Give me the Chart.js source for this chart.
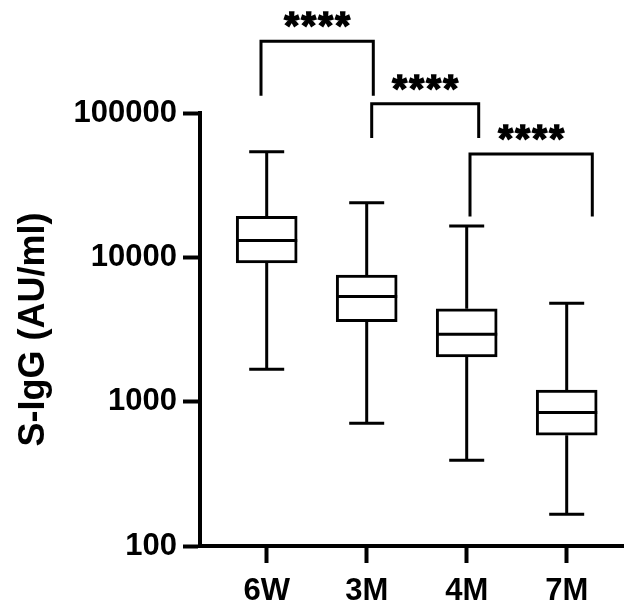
<!DOCTYPE html>
<html>
<head>
<meta charset="utf-8">
<script src="https://cdn.jsdelivr.net/npm/chart.js@4"></script>
<style>
  html, body { margin: 0; padding: 0; background: #fff; }
</style>
</head>
<body>
<canvas id="graficoIgG" width="624" height="600"></canvas>
<script>
// dados (AU/ml)
const grupos = ['6W', '3M', '4M', '7M']
const posicoes = [1, 2, 3, 4]
const minimo = [1680, 708, 392, 166]
const quartil1 = [9160, 3590, 2040, 585]
const mediana = [13100, 5350, 2930, 840]
const quartil3 = [19200, 7530, 4400, 1205]
const maximo = [53900, 23900, 16500, 4810]
const ticksY = [100, 1000, 10000, 100000]

// colchetes de significancia
const colcheteInicio = [0.943, 2.05, 3.033]
const colcheteFim = [2.066, 3.12, 4.256]
const colcheteTopo = [313800, 116000, 52000]
const colchetePerna = [131800, 67100, 19190]
const colcheteTexto = ['****', '****', '****']

const fonte = '"Liberation Sans", Arial, sans-serif'
const larguraCaixa = 61
const larguraTampa = 35

const bigodesPlugin = {
  id: 'bigodes',
  afterDatasetsDraw(chart) {
    const ctx = chart.ctx
    const x = chart.scales.x
    const y = chart.scales.y
    ctx.save()
    ctx.strokeStyle = '#000'
    ctx.lineWidth = 3
    ctx.lineCap = 'butt'

    for (let i = 0; i < grupos.length; i++) {
      const px = x.getPixelForValue(posicoes[i])
      ctx.beginPath()
      // bigode de cima
      ctx.moveTo(px, y.getPixelForValue(quartil3[i]))
      ctx.lineTo(px, y.getPixelForValue(maximo[i]))
      ctx.moveTo(px - larguraTampa / 2, y.getPixelForValue(maximo[i]))
      ctx.lineTo(px + larguraTampa / 2, y.getPixelForValue(maximo[i]))
      // bigode de baixo
      ctx.moveTo(px, y.getPixelForValue(quartil1[i]))
      ctx.lineTo(px, y.getPixelForValue(minimo[i]))
      ctx.moveTo(px - larguraTampa / 2, y.getPixelForValue(minimo[i]))
      ctx.lineTo(px + larguraTampa / 2, y.getPixelForValue(minimo[i]))
      // mediana
      ctx.moveTo(px - larguraCaixa / 2, y.getPixelForValue(mediana[i]))
      ctx.lineTo(px + larguraCaixa / 2, y.getPixelForValue(mediana[i]))
      ctx.stroke()
    }

    // colchetes + asteriscos
    for (let j = 0; j < colcheteInicio.length; j++) {
      const x1 = x.getPixelForValue(colcheteInicio[j])
      const x2 = x.getPixelForValue(colcheteFim[j])
      const yt = y.getPixelForValue(colcheteTopo[j])
      const yp = y.getPixelForValue(colchetePerna[j])
      ctx.lineWidth = 3
      ctx.beginPath()
      ctx.moveTo(x1, yp)
      ctx.lineTo(x1, yt)
      ctx.lineTo(x2, yt)
      ctx.lineTo(x2, yp)
      ctx.stroke()

      ctx.font = 'bold 38px ' + fonte
      ctx.fillStyle = '#000'
      ctx.textAlign = 'center'
      ctx.textBaseline = 'alphabetic'
      ctx.lineWidth = 1.5
      const meio = (x1 + x2) / 2
      const texto = colcheteTexto[j]
      for (let k = 0; k < texto.length; k++) {
        const tx = meio + (k - (texto.length - 1) / 2) * 17
        ctx.fillText(texto[k], tx, yt - 2)
        ctx.strokeText(texto[k], tx, yt - 2)
      }
    }
    ctx.restore()
  }
}

const ctxGrafico = document.getElementById('graficoIgG')

var graficoIgG = new Chart(ctxGrafico, {
  type: 'bar',
  data: {
    datasets: [{
      label: 'S-IgG',
      data: posicoes.map((p, i) => ({ x: p, y: [quartil1[i], quartil3[i]] })),
      backgroundColor: '#ffffff',
      borderColor: '#000000',
      borderWidth: 3,
      borderSkipped: false,
      barThickness: larguraCaixa
    }]
  },
  options: {
    responsive: false,
    animation: false,
    devicePixelRatio: 1,
    layout: { padding: { top: 113, right: 0, left: 0, bottom: 0 } },
    plugins: {
      legend: { display: false },
      tooltip: { enabled: false }
    },
    scales: {
      x: {
        type: 'linear',
        position: 'bottom',
        offset: false,
        min: 0.333,
        max: 4.573,
        afterBuildTicks: (s) => { s.ticks = posicoes.map(v => ({ value: v })) },
        afterFit: (s) => { s.height = 54 },
        ticks: {
          callback: (v) => grupos[posicoes.indexOf(v)],
          color: '#000',
          font: { family: fonte, size: 31, weight: 'bold' },
          padding: 10,
          maxRotation: 0,
          autoSkip: false
        },
        grid: { offset: false, drawOnChartArea: false, tickLength: 17, tickWidth: 4, tickColor: '#000' },
        border: { display: true, color: '#000', width: 4 }
      },
      y: {
        type: 'logarithmic',
        min: 100,
        max: 100000,
        afterBuildTicks: (s) => { s.ticks = ticksY.map(v => ({ value: v })) },
        afterFit: (s) => { s.width = 200 },
        ticks: {
          callback: (v) => String(v),
          color: '#000',
          font: { family: fonte, size: 31, weight: 'bold' },
          padding: 6,
          autoSkip: false
        },
        grid: { drawOnChartArea: false, tickLength: 17, tickWidth: 4, tickColor: '#000' },
        border: { display: true, color: '#000', width: 4 },
        title: {
          display: true,
          text: 'S-IgG (AU/ml)',
          color: '#000',
          font: { family: fonte, size: 36, weight: 'bold' },
          padding: { top: 12, bottom: 0 }
        }
      }
    }
  },
  plugins: [bigodesPlugin]
})
</script>
</body>
</html>
